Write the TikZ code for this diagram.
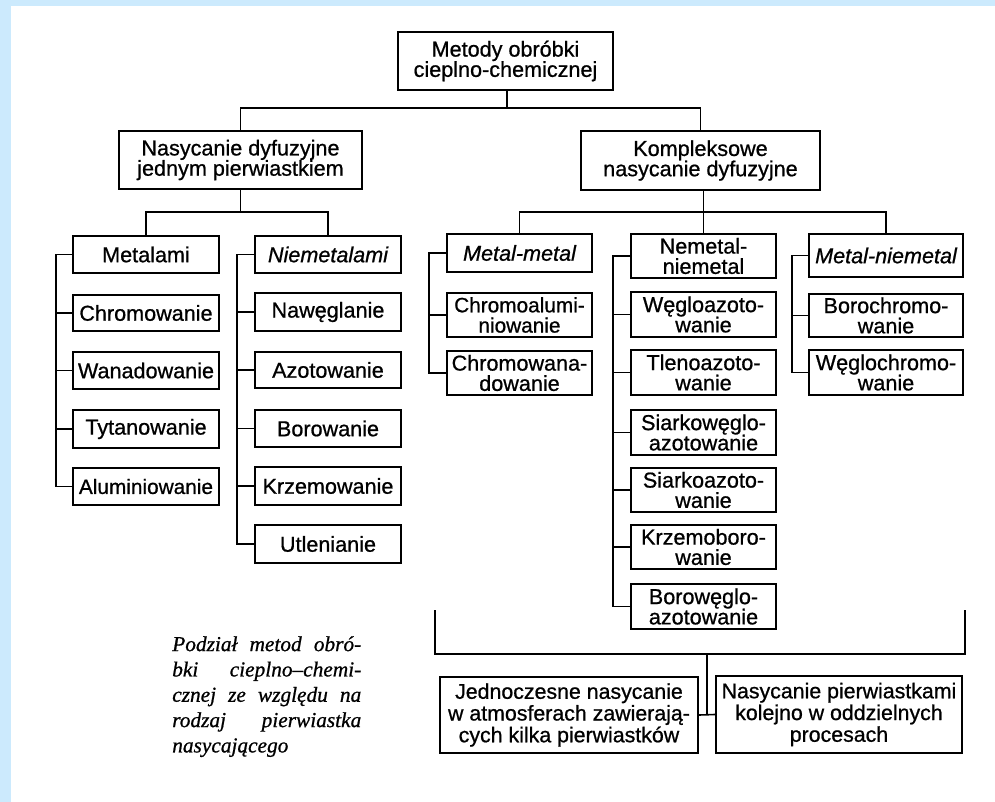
\documentclass[tikz,border=0pt]{standalone}
\usepackage{fontspec}
\setsansfont{Liberation Sans}[RawFeature={embolden=0.8}]
\newfontfamily\capfont{Liberation Serif}[RawFeature={embolden=0.8}]
\definecolor{bandblue}{RGB}{204,234,253}
\newcommand\mkbox[7][]{%
  \pgfmathsetmacro\mkw{(#5-#3)*0.75}%
  \pgfmathsetmacro\mkh{(#6-#4)*0.75}%
  \node[bx,#1,minimum width=\mkw pt,minimum height=\mkh pt] (#2) at ({(#3+#5)/2},{(#4+#6)/2}) {#7};%
}
\tikzset{
  bx/.style={draw, line width=1.4pt, inner sep=0pt, align=center,
    font=\sffamily\fontsize{16.2}{15.2}\selectfont},
  bxl/.style={font=\sffamily\fontsize{16}{16.3}\selectfont},
  bxs/.style={font=\sffamily\fontsize{15.6}{15.2}\selectfont},
  ln/.style={line width=1.2pt},
}
\begin{document}
\begin{tikzpicture}[x=0.75pt,y=-0.75pt]
\useasboundingbox (0,0) rectangle (995,802);
\fill[bandblue] (0,0) rectangle (11,802);
\fill[bandblue] (0,0) rectangle (995,6);

% level 0 and 1
\mkbox{top}{398}{32}{613}{90}{Metody obróbki\\cieplno-chemicznej}
\mkbox{n1}{119}{131}{362}{189}{Nasycanie dyfuzyjne\\jednym pierwiastkiem}
\mkbox{n2}{581}{131}{820}{190}{Kompleksowe\\nasycanie dyfuzyjne}

% column A
\mkbox{a0}{73}{236}{219}{273}{Metalami}
\mkbox{a1}{73}{295}{219}{331}{Chromowanie}
\mkbox{a2}{73}{352}{219}{389}{Wanadowanie}
\mkbox{a3}{73}{410}{219}{448}{Tytanowanie}
\mkbox[bxs]{a4}{73}{468}{219}{505}{Aluminiowanie}
% column B
\mkbox{b0}{255}{236}{401}{273}{\itshape Niemetalami}
\mkbox{b1}{255}{293}{401}{331}{Nawęglanie}
\mkbox{b2}{255}{352}{401}{388}{Azotowanie}
\mkbox{b3}{255}{410}{401}{447}{Borowanie}
\mkbox{b4}{255}{467}{401}{505}{Krzemowanie}
\mkbox{b5}{255}{525}{401}{563}{Utlenianie}
% column C
\mkbox{c0}{447}{234}{592}{272}{\itshape Metal-metal}
\mkbox[bxs]{c1}{447}{293}{592}{337}{Chromoalumi-\\niowanie}
\mkbox{c2}{447}{351}{592}{395}{Chromowana-\\dowanie}
% column D
\mkbox{d0}{631}{234}{776}{278}{Nemetal-\\niemetal}
\mkbox{d1}{631}{292}{776}{337}{Węgloazoto-\\wanie}
\mkbox{d2}{631}{350}{776}{395}{Tlenoazoto-\\wanie}
\mkbox{d3}{631}{410}{776}{455}{Siarkowęglo-\\azotowanie}
\mkbox{d4}{631}{468}{776}{512}{Siarkoazoto-\\wanie}
\mkbox{d5}{631}{525}{776}{569}{Krzemoboro-\\wanie}
\mkbox{d6}{631}{584}{776}{629}{Borowęglo-\\azotowanie}
% column E
\mkbox{e0}{809}{234}{963}{277}{\itshape Metal-niemetal}
\mkbox{e1}{809}{294}{963}{337}{Borochromo-\\wanie}
\mkbox{e2}{809}{350}{963}{395}{Węglochromo-\\wanie}
% bottom
\mkbox[bxl]{f1}{440}{677}{698}{753}{Jednoczesne nasycanie\\w atmosferach zawierają-\\cych kilka pierwiastków}
\mkbox[bxl]{f2}{716}{676}{962}{753}{Nasycanie pierwiastkami\\kolejno w oddzielnych\\procesach}

% connectors level 0 -> 1
\coordinate (h0) at (507,108);
\draw[ln] (top.south -| h0) -- (h0);
\draw[ln] (n1.north) |- (h0) -| (n2.north);
% n1 -> a0, b0
\coordinate (h1) at (240.5,212);
\draw[ln] (n1.south) -- (h1);
\draw[ln] (a0.north) |- (h1) -| (b0.north);
% n2 -> c0, d0, e0
\coordinate (h2) at (703.5,212);
\draw[ln] (n2.south -| d0.north) -- (d0.north);
\draw[ln] (c0.north) |- (h2) -| (e0.north);

% brackets
\draw[ln] (a0.west) -- ++(-16,0) |- (a4.west);
\foreach \i in {1,2,3} \draw[ln] (a\i.west) -- ++(-16,0);
\draw[ln] (b0.west) -- ++(-17,0) |- (b5.west);
\foreach \i in {1,2,3,4} \draw[ln] (b\i.west) -- ++(-17,0);
\draw[ln] (c0.west) -- ++(-17,0) |- (c2.west);
\draw[ln] (c1.west) -- ++(-17,0);
\draw[ln] (d0.west) -- ++(-17,0) |- (d6.west);
\foreach \i in {1,2,3,4,5} \draw[ln] (d\i.west) -- ++(-17,0);
\draw[ln] (e0.west) -- ++(-16,0) |- (e2.west);
\draw[ln] (e1.west) -- ++(-16,0);

% bottom bracket
\coordinate (bl) at (435,610);
\coordinate (br) at (965,610);
\coordinate (bm) at (707,654);
\draw[ln] (bl) |- (bm) -| (br);
\draw[ln] (bm) -- (bm |- f1.east);
\draw[ln] (f1.east) -- (f2.west);

% caption
\node[anchor=north west, inner sep=0pt, align=left,
  font=\capfont\itshape\fontsize{16}{19}\selectfont] (cap) at (172,636)
  {\makebox[141.75pt][s]{Podział metod obró-}\\
   \makebox[141.75pt][s]{bki cieplno–chemi-}\\
   \makebox[141.75pt][s]{cznej ze względu na}\\
   \makebox[141.75pt][s]{rodzaj pierwiastka}\\
   nasycającego};
\end{tikzpicture}
\end{document}
